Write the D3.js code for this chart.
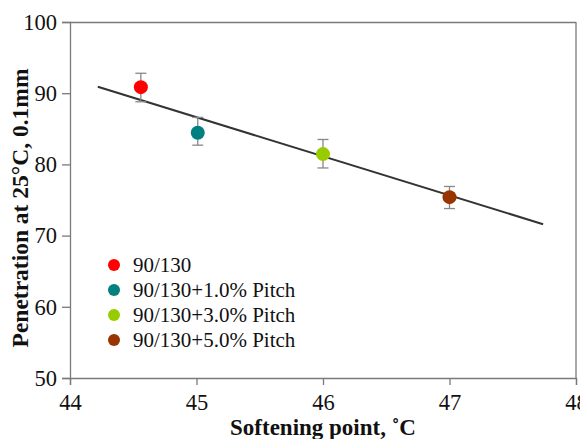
<!DOCTYPE html>
<html>
<head>
<meta charset="utf-8">
<script src="https://cdn.jsdelivr.net/npm/d3@7"></script>
<style>
  body { margin: 0; background: #fff; }
  svg { display: block; font-family: "Liberation Serif", "Times New Roman", serif; }
</style>
</head>
<body>
<svg id="chart" width="580" height="439"></svg>
<script>
// Data
const series = ['90/130', '90/130+1.0% Pitch', '90/130+3.0% Pitch', '90/130+5.0% Pitch'];
const softening = [44.56, 45.01, 46.0, 47.0];
const penetration = [90.85, 84.45, 81.45, 75.4];
const errLow = [88.8, 82.7, 79.5, 73.8];
const errHigh = [92.8, 86.6, 83.5, 76.9];
const colors = ['#ff0000', '#008080', '#99cc00', '#993300'];
const trendX = [44.22, 47.74];
const trendY = [90.9, 71.6];
const xTicks = [44, 45, 46, 47, 48];
const yTicks = [50, 60, 70, 80, 90, 100];

const svg = d3.select('#chart');
const margin = { left: 70, top: 22, right: 4, bottom: 61 };
const width = 580 - margin.left - margin.right;
const height = 439 - margin.top - margin.bottom;

const x = d3.scaleLinear().domain([44, 48]).range([0, width]);
const y = d3.scaleLinear().domain([50, 100]).range([height, 0]);

const g = svg.append('g').attr('transform', `translate(${margin.left},${margin.top})`);
const axisColor = '#7a7a7a';

// Frame (top and right lines)
g.append('line').attr('x1', 0).attr('x2', width).attr('y1', 0.5).attr('y2', 0.5)
    .attr('stroke', axisColor).attr('stroke-width', 1.3);
g.append('line').attr('x1', width).attr('x2', width).attr('y1', 0).attr('y2', height)
    .attr('stroke', axisColor).attr('stroke-width', 1.3);

// Axes
const xAxis = g.append('g')
    .attr('transform', `translate(0,${height})`)
    .call(d3.axisBottom(x).tickValues(xTicks).tickSize(7).tickPadding(9).tickFormat(d3.format('d')));
const yAxis = g.append('g')
    .call(d3.axisLeft(y).tickValues(yTicks).tickSize(8).tickPadding(5).tickFormat(d3.format('d')));

[xAxis, yAxis].forEach(a => {
    a.attr('font-family', null).attr('font-size', null);
    a.select('.domain').attr('stroke', axisColor).attr('stroke-width', 1.3);
    a.selectAll('.tick line').attr('stroke', axisColor).attr('stroke-width', 1.3);
    a.selectAll('.tick text')
        .attr('fill', '#111')
        .style('font-family', '"Liberation Serif", serif')
        .style('font-size', '22.5px');
});

// Trend line
g.append('line')
    .attr('x1', x(trendX[0])).attr('y1', y(trendY[0]))
    .attr('x2', x(trendX[1])).attr('y2', y(trendY[1]))
    .attr('stroke', '#333').attr('stroke-width', 2);

// Error bars
const points = series.map((s, i) => ({
    name: s, sx: softening[i], py: penetration[i], lo: errLow[i], hi: errHigh[i], color: colors[i]
}));

const eb = g.append('g').selectAll('g').data(points).enter().append('g')
    .attr('stroke', '#888').attr('stroke-width', 1.3);
eb.append('line')
    .attr('x1', d => x(d.sx)).attr('x2', d => x(d.sx))
    .attr('y1', d => y(d.lo)).attr('y2', d => y(d.hi));
eb.append('line')
    .attr('x1', d => x(d.sx) - 5.5).attr('x2', d => x(d.sx) + 5.5)
    .attr('y1', d => y(d.lo)).attr('y2', d => y(d.lo));
eb.append('line')
    .attr('x1', d => x(d.sx) - 5.5).attr('x2', d => x(d.sx) + 5.5)
    .attr('y1', d => y(d.hi)).attr('y2', d => y(d.hi));

// Points
g.append('g').selectAll('circle').data(points).enter().append('circle')
    .attr('cx', d => x(d.sx)).attr('cy', d => y(d.py))
    .attr('r', 7).attr('fill', d => d.color);

// Legend
const legend = g.append('g').attr('transform', 'translate(44,243)');
const rows = legend.selectAll('g').data(points).enter().append('g')
    .attr('transform', (d, i) => `translate(0,${i * 25})`);
rows.append('circle').attr('r', 6).attr('fill', d => d.color);
rows.append('text')
    .attr('x', 19).attr('dy', '0.35em')
    .style('font-size', '21px').attr('fill', '#111')
    .text(d => d.name);

// Axis titles
svg.append('text')
    .attr('x', margin.left + x(46.0)).attr('y', 435)
    .attr('text-anchor', 'middle')
    .style('font-size', '23px').style('font-weight', 'bold').attr('fill', '#111')
    .text('Softening point, \u02DAC');

svg.append('text')
    .attr('transform', 'translate(28,208) rotate(-90)')
    .attr('text-anchor', 'middle')
    .style('font-size', '23.5px').style('font-weight', 'bold').attr('fill', '#111')
    .text('Penetration at 25\u00B0C, 0.1mm');
</script>
</body>
</html>
